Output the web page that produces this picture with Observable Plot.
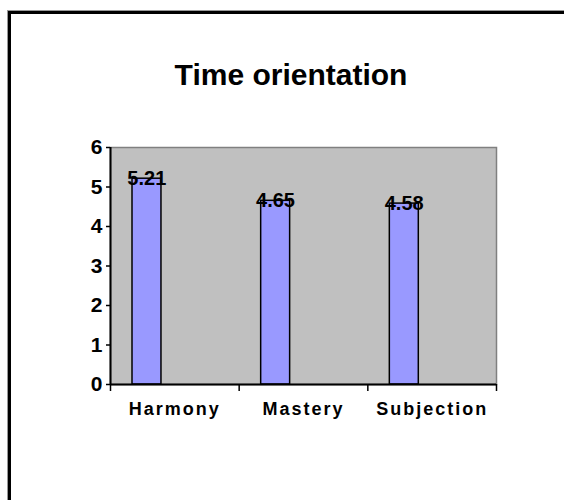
<!DOCTYPE html>
<html>
<head>
<meta charset="utf-8">
<script src="https://cdn.jsdelivr.net/npm/d3@7"></script>
<script src="https://cdn.jsdelivr.net/npm/@observablehq/plot@0.6"></script>
<style>
  html, body { margin: 0; padding: 0; background: #fff; overflow: hidden; width: 564px; height: 500px; }
  #border { position: absolute; left: 8px; top: 11px; width: 700px; height: 700px;
            border-left: 3px solid #000; border-top: 3px solid #000;
            box-shadow: -1px -1px 0 #999; }
  #title { position: absolute; left: 0; width: 582px; top: 60px; text-align: center;
           font: bold 30px "Liberation Sans", Arial, sans-serif; line-height: 30px; color: #000; }
  #chart { position: absolute; left: 0; top: 110px; }
  g[aria-label="x-axis tick label"] text { letter-spacing: 2px; }
</style>
</head>
<body>
<div id="border"></div>
<div id="title">Time orientation</div>
<div id="chart"></div>
<script>
const categories = ["Harmony", "Mastery", "Subjection"];
const values = [5.21, 4.65, 4.58];
const yTicks = [0, 1, 2, 3, 4, 5, 6];

const data = categories.map((c, i) => ({category: c, index: i, value: values[i]}));

const plot = Plot.plot({
  width: 564,
  height: 330,
  marginLeft: 110,
  marginRight: 68,
  marginTop: 37,
  marginBottom: 56,
  style: {fontFamily: "'Liberation Sans', Arial, sans-serif", fontWeight: "bold", fontSize: "18px", color: "#000", background: "transparent"},
  x: {type: "linear", domain: [0, categories.length]},
  y: {domain: [0, 6]},
  marks: [
    Plot.frame({fill: "#C0C0C0", stroke: "#808080", strokeWidth: 1.5}),
    Plot.rectY(data, {x1: d => d.index, x2: d => d.index + 1, y: "value",
      fill: "#9999FF", stroke: "#000", strokeWidth: 1.5, insetLeft: 22, insetRight: 77.7}),
    Plot.ruleX([0], {stroke: "#000", strokeWidth: 2}),
    Plot.ruleY([0], {stroke: "#000", strokeWidth: 2}),
    Plot.axisY({ticks: yTicks, tickSize: 4, tickPadding: 4, tickFormat: d3.format("d"),
      label: null, fontSize: 21, fontWeight: "bold", stroke: "#000", strokeWidth: 1.5}),
    Plot.axisX({ticks: d3.range(categories.length + 1), tickSize: 7, tickFormat: () => "",
      label: null, stroke: "#000", strokeWidth: 1.5}),
    Plot.axisX({ticks: categories.map((c, i) => i + 0.5), tickSize: 0, tickPadding: 18,
      tickFormat: t => categories[Math.floor(t)], label: null, fontSize: 18, fontWeight: "bold"}),
    Plot.text(data, {x: d => d.index + 0.5, y: "value", text: d => d.value.toFixed(2),
      dx: -28, fontSize: 20, fontWeight: "bold", textAnchor: "middle", lineAnchor: "middle", fill: "#000"})
  ]
});
document.getElementById("chart").appendChild(plot);
</script>
</body>
</html>
